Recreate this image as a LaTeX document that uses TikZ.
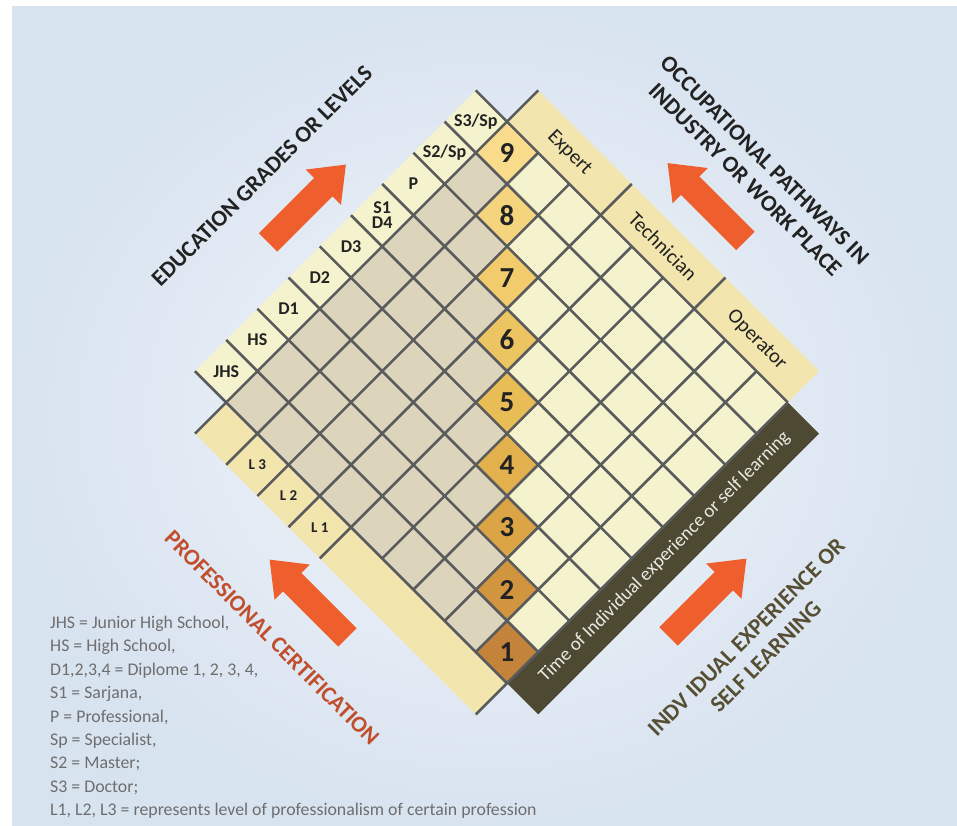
\documentclass[tikz,border=0pt]{standalone}
\usepackage{fontspec}
\setmainfont{Carlito}
\begin{document}
\definecolor{bgout}{HTML}{D8E3F0}
\definecolor{bgin}{HTML}{F2F5F9}
\definecolor{tancell}{HTML}{DDD4BC}
\definecolor{palecell}{HTML}{F5F3CD}
\definecolor{stripc}{HTML}{F2E5AE}
\definecolor{bandc}{HTML}{4E4933}
\definecolor{gridc}{HTML}{5A5B5D}
\definecolor{arrowc}{HTML}{EF5E2D}
\definecolor{headdark}{HTML}{222222}
\definecolor{headolive}{HTML}{574F33}
\definecolor{headred}{HTML}{C14F2E}
\definecolor{legendc}{HTML}{6E6E6E}
\definecolor{bandtxt}{HTML}{EAEAE2}
\definecolor{num1}{HTML}{C4833A}
\definecolor{num2}{HTML}{D1943F}
\definecolor{num3}{HTML}{DBA545}
\definecolor{num4}{HTML}{E2B04C}
\definecolor{num5}{HTML}{E9BD55}
\definecolor{num6}{HTML}{EDC462}
\definecolor{num7}{HTML}{F1CB6C}
\definecolor{num8}{HTML}{F5D47E}
\definecolor{num9}{HTML}{F8DC8C}
\begin{tikzpicture}[x=1pt,y=-1pt,
  gridline/.style={draw=gridc,line width=2.6pt},
  edulbl/.style={font=\bfseries\fontsize{18}{18}\selectfont,text=headdark,align=center,inner sep=0pt},
  cert/.style={font=\bfseries\fontsize{15}{16}\selectfont,text=headdark,inner sep=0pt},
  numtext/.style={font=\bfseries\fontsize{29}{30}\selectfont,text=headdark,inner sep=0pt},
  joblbl/.style={font=\fontsize{20.5}{22}\selectfont,text=headdark,rotate=-45,inner sep=0pt},
  bandlbl/.style={font=\fontsize{19}{20}\selectfont,text=bandtxt,rotate=45,inner sep=0pt},
  heading/.style={font=\bfseries\fontsize{23}{27.6}\selectfont,align=center,inner sep=0pt},
  legend/.style={font=\fontsize{17.8}{19}\selectfont,text=legendc,inner sep=0pt},
  bigarrow/.pic={\fill[arrowc] (-55,-13) -- (23,-13) -- (23,-25) -- (55,0) -- (23,25) -- (23,13) -- (-55,13) -- cycle;}]
\useasboundingbox (0,0) rectangle (957,826);
% backdrop
\fill[white] (0,0) rectangle (957,826);
\shade[inner color=bgin,outer color=bgout] (12,7) rectangle (957,826);

% diamond grid: i runs up-right, j runs up-left, one unit per cell
\begin{scope}[shift={(507,652)},x={(31.2pt,31.2pt)},y={(-31.2pt,31.2pt)}]
  % side strips
  \fill[stripc] (-1.5,-0.5) -- (-0.5,-0.5) -- (-0.5,8.5) -- (-1.5,8.5) -- cycle;
  \fill[stripc] (8.5,-0.5) -- (9.5,-0.5) -- (9.5,8.5) -- (8.5,8.5) -- cycle;
  \fill[palecell] (-0.5,8.5) -- (8.5,8.5) -- (8.5,9.5) -- (-0.5,9.5) -- cycle;
  \fill[bandc] (-0.5,-1.5) -- (8.5,-1.5) -- (8.5,-0.5) -- (-0.5,-0.5) -- cycle;
  % cells
  \fill[palecell] (-0.5,-0.5) -- (8.5,-0.5) -- (8.5,8.5) -- (-0.5,8.5) -- cycle;
  \fill[tancell] (-0.5,0.5) \foreach \k in {0,...,7} { -- (\k+0.5,\k+0.5) -- (\k+0.5,\k+1.5) } -- (-0.5,8.5) -- cycle;
  \foreach \k in {1,...,9}
    \fill[num\k] (\k-1.5,\k-1.5) -- (\k-0.5,\k-1.5) -- (\k-0.5,\k-0.5) -- (\k-1.5,\k-0.5) -- cycle;
  % grid lines
  \foreach \t in {-0.5,0.5,...,8.5} {
    \draw[gridline] (\t,-0.5) -- (\t,9.5);
    \draw[gridline] (-0.5,\t) -- (8.5,\t);
  }
  \draw[gridline] (-1.5,8.5) -- (-0.5,8.5);
  \draw[gridline] (8.5,8.5) -- (9.5,8.5);
  \draw[gridline] (-1.5,-0.5) -- (-0.5,-0.5);
  \foreach \t in {4.5,5.5,6.5,7.5} \draw[gridline] (-1.5,\t) -- (-0.5,\t);
  \foreach \t in {2.5,5.5} \draw[gridline] (8.5,\t) -- (9.5,\t);
  % level numbers
  \foreach \k in {1,...,9} \node[numtext] (lev\k) at (\k-1,\k-1) {\k};
  % education grades
  \foreach \g [count=\k from 0] in {JHS,HS,D1,D2,D3,{S1\\[-3pt]D4},P,S2/Sp,S3/Sp}
    \node[edulbl] (edu\k) at (\k,9) {\g};
  % certification levels
  \node[cert] (lthree) at (-1,7) {L 3};
  \node[cert] (ltwo) at (-1,6) {L 2};
  \node[cert] (lone) at (-1,5) {L 1};
  % occupational pathways
  \node[joblbl] (expert) at (9,7) {Expert};
  \node[joblbl] (technician) at (9,4) {Technician};
  \node[joblbl] (operator) at (9,1) {Operator};
  % experience band
  \node[bandlbl] (timeband) at (4.05,-1) {Time of Individual experience or self learning};
\end{scope}

% direction arrows
\pic[rotate=45] at (307,203.5) {bigarrow};
\pic[rotate=135] at (706.5,202) {bigarrow};
\pic[rotate=135] at (308.5,598.5) {bigarrow};
\pic[rotate=45] at (707.5,597.5) {bigarrow};

% axis headings
\node[heading,text=headdark,rotate=45] (edu) at (262,176) {EDUCATION GRADES OR LEVELS};
\node[heading,text=headdark,rotate=-45] (occ) at (755,170) {OCCUPATIONAL PATHWAYS IN\\INDUSTRY OR WORK PLACE};
\node[heading,text=headred,rotate=-45] (prof) at (272,638) {PROFESSIONAL CERTIFICATION};
\node[heading,text=headolive,rotate=45] (indv) at (756,647) {INDV IDUAL EXPERIENCE OR\\SELF LEARNING};

% abbreviations
\foreach \t [count=\k] in {{JHS = Junior High School,},{HS = High School,},{D1,2,3,4 = Diplome 1, 2, 3, 4,},{S1 = Sarjana,},{P = Professional,},{Sp = Specialist,},{S2 = Master;},{S3 = Doctor;},{L1, L2, L3 = represents level of professionalism of certain profession}}
  \node[legend,anchor=base west] (leg\k) at (50,628.5+23.4*\k-23.4) {\t};
\end{tikzpicture}
\end{document}
